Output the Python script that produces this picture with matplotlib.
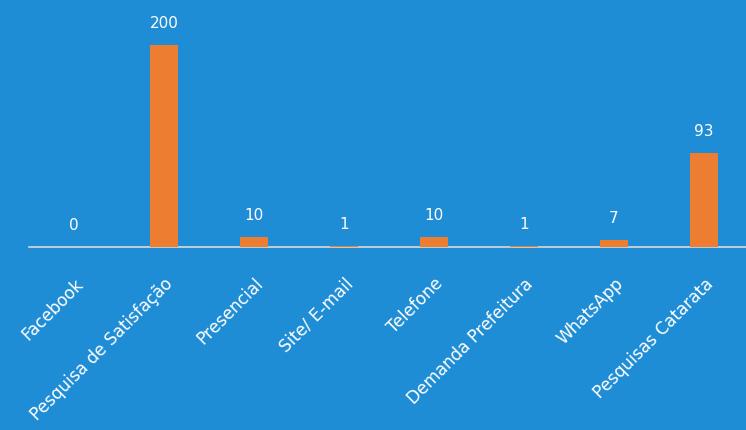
import matplotlib
matplotlib.use("Agg")
import matplotlib.pyplot as plt

categories = ["Facebook", "Pesquisa de Satisfação", "Presencial", "Site/ E-mail",
              "Telefone", "Demanda Prefeitura", "WhatsApp", "Pesquisas Catarata"]
values = [0, 200, 10, 1, 10, 1, 7, 93]

bg = "#1F8DD6"
bar_color = "#ED7D31"

fig = plt.figure(figsize=(7.46, 4.30), dpi=100, facecolor=bg)
ax = fig.add_axes([29/746, (430-247)/430, 720/746, 222/430])
ax.set_facecolor(bg)

x = list(range(len(categories)))
ax.bar(x, values, width=0.31, color=bar_color, zorder=4)
ax.set_xlim(-0.5, len(categories) - 0.5)
ax.set_ylim(0, 220)

for xi, v in zip(x, values):
    ax.annotate(str(v), (xi, v), xytext=(0, 10), textcoords="offset points",
                ha="center", va="bottom", color="white", fontsize=11, family="DejaVu Sans")

for s in ["top", "right", "left"]:
    ax.spines[s].set_visible(False)
ax.spines["bottom"].set_color("#D9D9D9")
ax.spines["bottom"].set_linewidth(1.2)
ax.spines["bottom"].set_zorder(3)
ax.set_yticks([])
ax.set_xticks(x)
ax.set_xticklabels(categories, rotation=45, ha="right", rotation_mode="anchor",
                   color="white", fontsize=12.2, family="DejaVu Sans")
ax.tick_params(axis="x", length=0, pad=20)

fig.savefig("out.png", dpi=100, facecolor=bg)
